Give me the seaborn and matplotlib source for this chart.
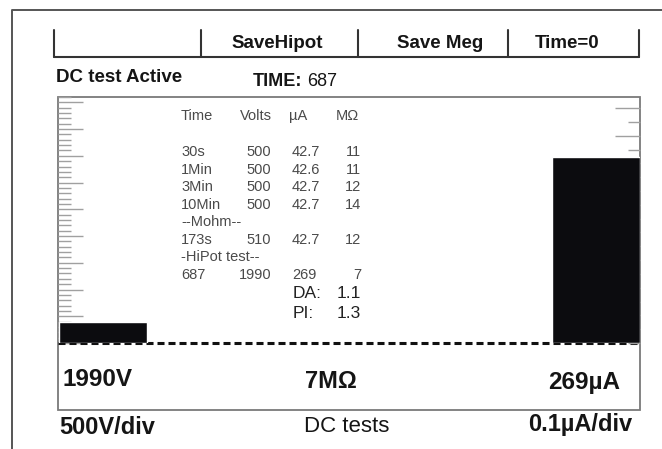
import pandas as pd
import seaborn as sns
import matplotlib.pyplot as plt
from matplotlib.patches import Rectangle
from matplotlib.ticker import MultipleLocator

# --- readings shown on the instrument screen ---
bar_names = ["Volts", "uA"]
bar_values = [1990, 269]          # left bar in V, right bar in uA

tbl_head = ["Time", "Volts", "\u00b5A", "M\u03a9"]
tbl_time = ["30s", "1Min", "3Min", "10Min", "173s", "687"]
tbl_volts = ["500", "500", "500", "500", "510", "1990"]
tbl_ua = ["42.7", "42.6", "42.7", "42.7", "42.7", "269"]
tbl_mohm = ["11", "11", "12", "14", "12", "7"]
da_value = "1.1"
pi_value = "1.3"

buttons = ["SaveHipot", "Save Meg", "Time=0"]

###############################################
sns.set_style("white")
plt.rcParams["font.family"] = ["Liberation Sans", "DejaVu Sans"]

W, H = 662, 449
fig = plt.figure(figsize=(W / 100, H / 100), dpi=100)

# full-figure pixel axes for frame, lines and text
bg = fig.add_axes([0, 0, 1, 1])
bg.set_xlim(0, W)
bg.set_ylim(H, 0)
bg.axis("off")


def px_box(x0, y0, x1, y1):
    return [x0 / W, 1 - y1 / H, (x1 - x0) / W, (y1 - y0) / H]


# outer frame
bg.plot([12, 12, 662], [449, 10, 10], color="#555555", lw=1.4)

# soft-key bar
for x in [54, 201, 358, 508, 639]:
    bg.plot([x, x], [30, 57], color="#333333", lw=1.5)
bg.plot([54, 639], [57, 57], color="#333333", lw=1.5)
for label, xc in zip(buttons, [277, 440, 567]):
    bg.text(xc, 43, label, ha="center", va="center", fontsize=13.5,
            fontweight="bold", color="#151515")

bg.text(56, 77, "DC test Active", ha="left", va="center", fontsize=13.5,
        fontweight="bold", color="#151515")
bg.text(253, 82, "TIME:", ha="left", va="center", fontsize=13,
        fontweight="bold", color="#151515")
bg.text(307, 82, "687", ha="left", va="center", fontsize=13, color="#151515")

# plot window box
bg.add_patch(Rectangle((58, 97), 582, 313, fill=False, ec="#7a7a7a", lw=1.3))

# readout table
tc = "#4a4a4a"
fs = 10.5
for txt, x in zip(tbl_head, [181, 240, 289, 336]):
    bg.text(x, 116, txt, ha="left", va="center", fontsize=fs, color=tc)
row_y = [152, 170, 187, 205, 240, 275]
for i, y in enumerate(row_y):
    bg.text(181, y, tbl_time[i], ha="left", va="center", fontsize=fs, color=tc)
    bg.text(271, y, tbl_volts[i], ha="right", va="center", fontsize=fs, color=tc)
    bg.text(292, y, tbl_ua[i], ha="left", va="center", fontsize=fs, color=tc)
    bg.text(361, y, tbl_mohm[i], ha="right", va="center", fontsize=fs, color=tc)
bg.text(181, 222, "--Mohm--", ha="left", va="center", fontsize=fs, color=tc)
bg.text(181, 257, "-HiPot test--", ha="left", va="center", fontsize=fs, color=tc)
bg.text(293, 293, "DA:", ha="left", va="center", fontsize=12.5, color="#222222")
bg.text(337, 293, da_value, ha="left", va="center", fontsize=12.5, color="#222222")
bg.text(293, 313, "PI:", ha="left", va="center", fontsize=12.5, color="#222222")
bg.text(337, 313, pi_value, ha="left", va="center", fontsize=12.5, color="#222222")

# big readings under the bars
bg.text(62, 380, "1990V", ha="left", va="center", fontsize=17.5,
        fontweight="bold", color="#151515")
bg.text(331, 381, "7M\u03a9", ha="center", va="center", fontsize=17,
        fontweight="bold", color="#151515")
bg.text(620, 382, "269\u00b5A", ha="right", va="center", fontsize=17.5,
        fontweight="bold", color="#151515")
bg.text(59, 427, "500V/div", ha="left", va="center", fontsize=17,
        fontweight="bold", color="#151515")
bg.text(347, 426, "DC tests", ha="center", va="center", fontsize=16,
        color="#151515")
bg.text(632, 425, "0.1\u00b5A/div", ha="right", va="center", fontsize=17,
        fontweight="bold", color="#151515")

# --- bars: volts on left scale, current on right scale ---
df = pd.DataFrame({"name": bar_names, "value": bar_values})
bar_w = 0.1785

ax = fig.add_axes(px_box(58, 97, 640, 343))
ax.patch.set_visible(False)
sns.barplot(data=df[df["name"] == "Volts"], x="name", y="value", order=bar_names,
            width=bar_w, color="#0c0c0f", saturation=1, ax=ax, zorder=2)
ax2 = ax.twinx()
sns.barplot(data=df[df["name"] == "uA"], x="name", y="value", order=bar_names,
            width=bar_w, color="#0c0c0f", saturation=1, ax=ax2, zorder=2)

ax.set_xlim(-0.0913, 1.0892)
ax.set_ylim(0, 23000)
ax2.set_ylim(0, 356)

# dashed zero line
ax.axhline(0, color="#111111", lw=2.2, dashes=(2.3, 1.3), clip_on=False, zorder=1)

for a in (ax, ax2):
    for s in a.spines.values():
        s.set_visible(False)
    a.set_xlabel("")
    a.set_ylabel("")
    a.set_axisbelow(True)
    a.tick_params(axis="x", bottom=False, labelbottom=False)

ax.yaxis.set_major_locator(MultipleLocator(2500))
ax.yaxis.set_minor_locator(MultipleLocator(500))
ax.tick_params(axis="y", which="major", direction="in", length=18, width=1,
               color="#a0a0a0", left=True, right=False, labelleft=False)
ax.tick_params(axis="y", which="minor", direction="in", length=9, width=1,
               color="#a0a0a0", left=True, right=False)

ax2.yaxis.set_major_locator(MultipleLocator(40, offset=20))
ax2.yaxis.set_minor_locator(MultipleLocator(20))
ax2.tick_params(axis="y", which="major", direction="in", length=18, width=1,
                color="#a0a0a0", right=True, left=False, labelright=False)
ax2.tick_params(axis="y", which="minor", direction="in", length=9, width=1,
                color="#a0a0a0", right=True, left=False)

fig.savefig("out.png", dpi=100)
